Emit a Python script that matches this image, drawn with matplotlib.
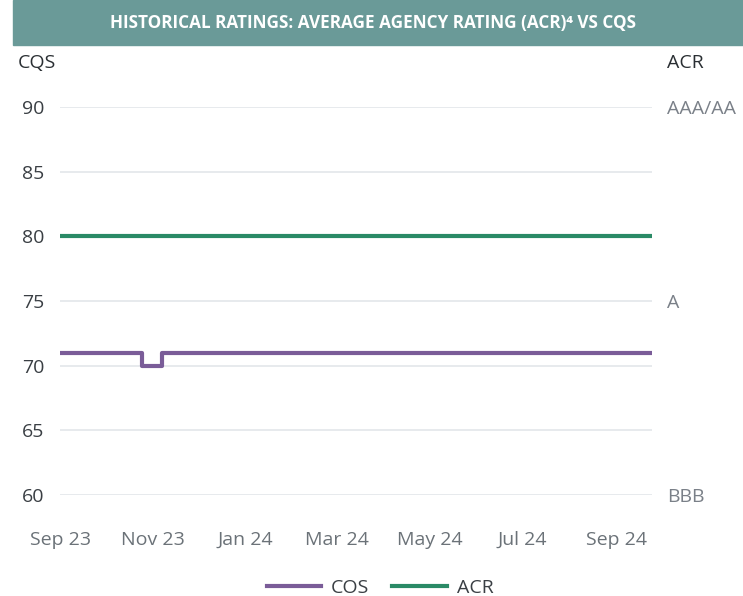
import matplotlib
matplotlib.use("Agg")
import matplotlib.pyplot as plt
import pandas as pd

plt.rcParams['font.family'] = ['Open Sans', 'DejaVu Sans']

cqs_dates = pd.to_datetime(["2023-09-01", "2023-10-25", "2023-11-07", "2024-09-24"])
cqs_values = [71, 70, 71, 71]
acr_dates = pd.to_datetime(["2023-09-01", "2024-09-24"])
acr_values = [80, 80]
y_ticks = [60, 65, 70, 75, 80, 85, 90]
right_ticks = [60, 75, 90]
right_labels = ["BBB", "A", "AAA/AA"]
x_ticks = pd.to_datetime(["2023-09-01", "2023-11-01", "2024-01-01", "2024-03-01",
                          "2024-05-01", "2024-07-01", "2024-09-01"])
x_labels = ["Sep 23", "Nov 23", "Jan 24", "Mar 24", "May 24", "Jul 24", "Sep 24"]

fig = plt.figure(figsize=(7.43, 5.96), dpi=100)
W, H = 743, 596
ax = fig.add_axes([60 / W, 1 - 495 / H, (652 - 60) / W, (495 - 107) / H])

purple = "#7a5c98"
green = "#2a8a66"
ax.plot(cqs_dates, cqs_values, drawstyle="steps-post", color=purple, lw=3, label="COS", zorder=3)
ax.plot(acr_dates, acr_values, color=green, lw=3, label="ACR", zorder=3)

ax.set_xlim(cqs_dates[0], cqs_dates[-1])
ax.set_ylim(60, 90)
ax.set_yticks(y_ticks)
ax.set_yticklabels([str(v) for v in y_ticks])
ax.set_xticks(x_ticks)
ax.set_xticklabels(x_labels)
ax.grid(axis="y", color="#e3e6ea", lw=1.2)
ax.grid(axis="x", visible=False)
for s in ax.spines.values():
    s.set_visible(False)
ax.tick_params(axis="both", length=0, labelsize=14, colors="#555b61")
ax.tick_params(axis="y", pad=11)
ax.tick_params(axis="x", pad=26)
for lbl in ax.get_yticklabels():
    lbl.set_color("#3a3f44")
for lbl in ax.get_xticklabels():
    lbl.set_color("#6b7278")

ax2 = ax.twinx()
ax2.set_ylim(60, 90)
ax2.set_yticks(right_ticks)
ax2.set_yticklabels(right_labels)
for s in ax2.spines.values():
    s.set_visible(False)
ax2.tick_params(axis="y", length=0, labelsize=14, colors="#7a8088", pad=11)

# title band
fig.patches.append(plt.Rectangle((13 / W, 1 - 45 / H), (743 - 13) / W, 45 / H,
                                 transform=fig.transFigure, color="#6a9a98", zorder=0))
fig.text(373 / W, 1 - 23 / H, "HISTORICAL RATINGS: AVERAGE AGENCY RATING (ACR)\u2074 VS CQS",
         ha="center", va="center", color="white", fontsize=12.3, fontweight="bold")
fig.text(18 / W, 1 - 63 / H, "CQS", ha="left", va="center", fontsize=14, color="#2a2f33")
fig.text(667 / W, 1 - 63 / H, "ACR", ha="left", va="center", fontsize=14, color="#2a2f33")

fig.legend(loc="center", bbox_to_anchor=(380 / W, 1 - 588 / H), ncol=2, frameon=False,
           fontsize=14, handlelength=2.8, handletextpad=0.5, columnspacing=1.2,
           labelcolor="#3a3f44")

fig.savefig("out.png", dpi=100)
